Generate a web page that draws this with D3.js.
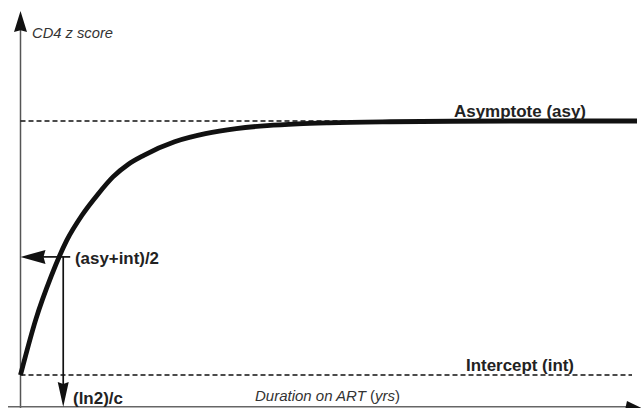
<!DOCTYPE html>
<html><head><meta charset="utf-8">
<script src="https://cdn.jsdelivr.net/npm/d3@7"></script>
<style>body{margin:0;background:#fff}svg{display:block}text{font-family:"Liberation Sans",Arial,sans-serif}</style>
</head><body><svg id="c" width="641" height="408"></svg>
<script>
// Data (years on x, CD4 z score relative units on y)
const curveYears  = [0, 0.25, 0.5, 0.75, 1, 1.25, 1.5, 1.75, 2, 2.5, 3, 3.5, 4, 4.5, 5, 6, 7, 8, 10];
const curveValues = [0, 0.22, 0.39, 0.53, 0.63, 0.71, 0.78, 0.83, 0.865, 0.918, 0.95, 0.97, 0.982, 0.989, 0.993, 0.997, 0.999, 1, 1];
const intercept = 0;
const asymptote = 1;
const halfLifeYears = 0.693;   // (ln2)/c
const halfValue = 0.465;       // (asy+int)/2 as drawn
const labels = {
  yAxis: "CD4 z score", xAxis: "Duration on ART ", xAxisUnit: "yrs",
  asy: "Asymptote (asy)", int: "Intercept (int)", half: "(asy+int)/2", hl: "(ln2)/c"
};

const svg = d3.select("#c");
const x = d3.scaleLinear().domain([0, 10]).range([20.5, 637]);
const y = d3.scaleLinear().domain([0, 1]).range([375, 121]);
const x0 = x(0);

function head(tx, ty, dir, len, hw) {
  const notch = len * 0.08;
  let p;
  if (dir === "up") p = [[tx, ty], [tx + hw, ty + len], [tx, ty + len - notch], [tx - hw, ty + len]];
  if (dir === "down") p = [[tx, ty], [tx + hw, ty - len], [tx, ty - len + notch], [tx - hw, ty - len]];
  if (dir === "left") p = [[tx, ty], [tx + len, ty - hw], [tx + len - notch, ty], [tx + len, ty + hw]];
  svg.append("path").attr("d", "M" + p.map(q => q.join(",")).join("L") + "Z").attr("fill", "#111");
}

// axes
svg.append("line").attr("x1", x0).attr("x2", x0).attr("y1", 408).attr("y2", 28)
  .attr("stroke", "#555").attr("stroke-width", 1.5);
head(x0, 11, "up", 21, 6.5);
svg.append("line").attr("x1", 8).attr("x2", 630).attr("y1", 406.8).attr("y2", 406.8)
  .attr("stroke", "#666").attr("stroke-width", 1.5);
svg.append("path").attr("d", "M627,401 L646,410 L625,410 Z").attr("fill", "#111");

// dashed reference lines
svg.append("line").attr("x1", x0).attr("x2", 637).attr("y1", y(asymptote)).attr("y2", y(asymptote))
  .attr("stroke", "#111").attr("stroke-width", 1.7).attr("stroke-dasharray", "5,3");
svg.append("line").attr("x1", x0).attr("x2", 632).attr("y1", y(intercept)).attr("y2", y(intercept))
  .attr("stroke", "#111").attr("stroke-width", 1.7).attr("stroke-dasharray", "5,3");

// curve
const pts = curveYears.map((t, i) => [t, curveValues[i]]);
svg.append("path").datum(pts)
  .attr("d", d3.line().x(d => x(d[0])).y(d => y(d[1])).curve(d3.curveMonotoneX))
  .attr("fill", "none").attr("stroke", "#111").attr("stroke-width", 4.8);

// half-life arrows
const hy = y(halfValue), hx = x(halfLifeYears);
svg.append("line").attr("x1", hx + 7).attr("x2", x0 + 20).attr("y1", hy).attr("y2", hy)
  .attr("stroke", "#111").attr("stroke-width", 1.7);
head(x0, hy, "left", 25, 7);
svg.append("line").attr("x1", hx).attr("x2", hx).attr("y1", hy).attr("y2", 388)
  .attr("stroke", "#111").attr("stroke-width", 1.7);
head(hx, 407, "down", 25, 5.5);

// texts
svg.append("text").attr("x", 32).attr("y", 38).attr("font-size", 14.5).attr("font-style", "italic")
  .attr("fill", "#333").attr("textLength", 81).attr("lengthAdjust", "spacingAndGlyphs").text(labels.yAxis);
const xt = svg.append("text").attr("x", 255).attr("y", 401).attr("font-size", 14).attr("fill", "#333")
  .attr("textLength", 145).attr("lengthAdjust", "spacingAndGlyphs");
xt.append("tspan").attr("font-style", "italic").text(labels.xAxis);
xt.append("tspan").text("(");
xt.append("tspan").attr("font-style", "italic").text(labels.xAxisUnit);
xt.append("tspan").text(")");
function bold(txt, bx, by, w) {
  svg.append("text").attr("x", bx).attr("y", by).attr("font-size", 17).attr("font-weight", "bold")
    .attr("fill", "#222").attr("textLength", w).attr("lengthAdjust", "spacingAndGlyphs").text(txt);
}
bold(labels.asy, 454, 117, 132);
bold(labels.int, 466, 371, 108);
bold(labels.half, 75, 264, 84);
bold(labels.hl, 73, 404, 50);
</script></body></html>
